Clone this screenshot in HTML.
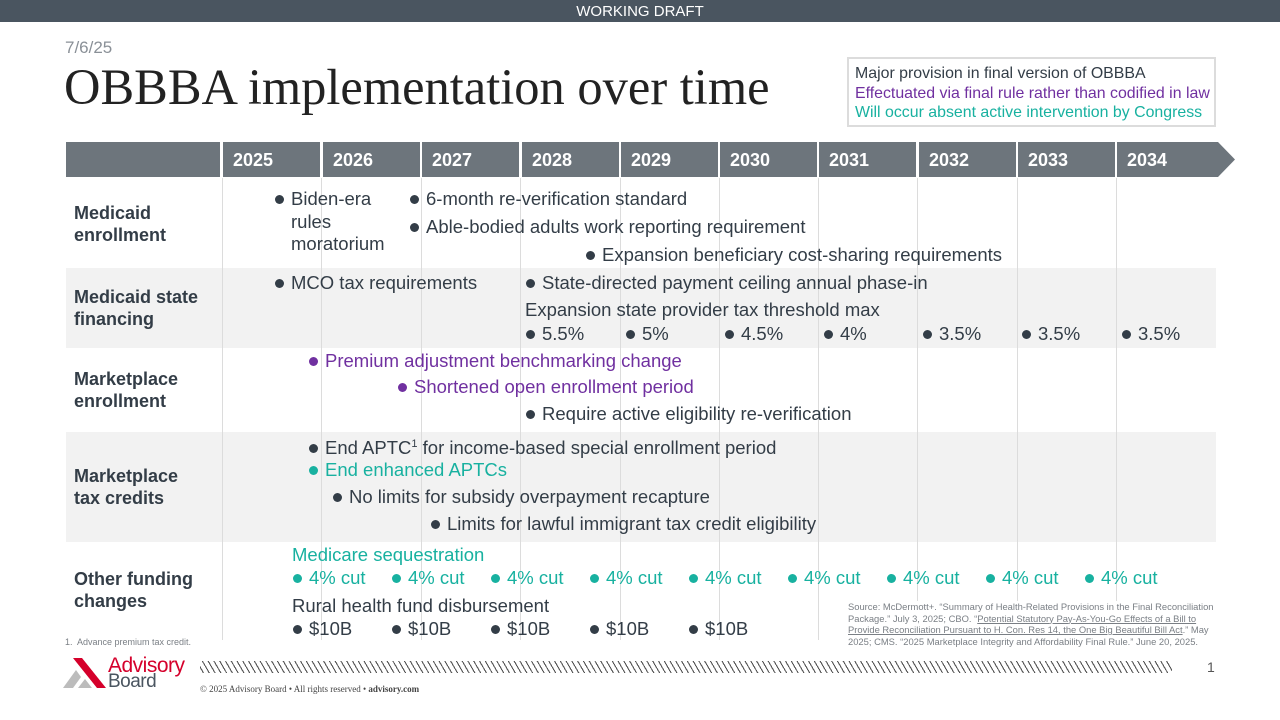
<!DOCTYPE html>
<html><head><meta charset="utf-8"><style>
*{margin:0;padding:0;box-sizing:border-box}
body{width:1280px;height:720px;position:relative;background:#fff;font-family:"Liberation Sans",Arial,sans-serif;overflow:hidden;color:#333d47}
.a{position:absolute;white-space:nowrap}
.t{font-size:18.5px;line-height:22px;color:#333d47}
.p{color:#7030a0}.g{color:#18b1a0}
.d{display:inline-block;width:9px;height:9px;border-radius:50%;background:currentColor;margin-right:7px;vertical-align:1px}
.lab{font-size:18px;font-weight:bold;line-height:22px;color:#333d47}
.yr{position:absolute;top:142px;height:35px;background:#6d757c;color:#fff;font-weight:bold;font-size:18px;line-height:36px;padding-left:10px}
.vl{position:absolute;top:178px;height:462px;width:1px;background:#dcdcdc}
</style></head><body>
<div class="a" style="left:0;top:0;width:1280px;height:22px;background:#4a5560;color:#fff;font-size:15px;line-height:23px;text-align:center">WORKING DRAFT</div>
<div class="a" style="left:65px;top:38px;font-size:17px;color:#8a9097">7/6/25</div>
<div class="a" style="left:64px;top:58px;font-family:'Liberation Serif',serif;font-size:50.5px;color:#222">OBBBA implementation over time</div>
<div class="a" style="left:847px;top:57px;width:369px;height:70px;border:2px solid #dcdcdc;padding:5px 0 0 6px;font-size:15.9px;line-height:19.5px">
<div>Major provision in final version of OBBBA</div><div class="p">Effectuated via final rule rather than codified in law</div><div class="g">Will occur absent active intervention by Congress</div></div>

<div style="position:absolute;left:66px;top:268px;width:1150px;height:80px;background:#f2f2f2"></div>
<div style="position:absolute;left:66px;top:432px;width:1150px;height:110px;background:#f2f2f2"></div>

<div class="yr" style="left:66px;width:154px"></div>
<div class="yr" style="left:223px;width:97px">2025</div>
<div class="yr" style="left:323px;width:97px">2026</div>
<div class="yr" style="left:422px;width:97px">2027</div>
<div class="yr" style="left:522px;width:97px">2028</div>
<div class="yr" style="left:621px;width:97px">2029</div>
<div class="yr" style="left:720px;width:97px">2030</div>
<div class="yr" style="left:819px;width:97px">2031</div>
<div class="yr" style="left:919px;width:97px">2032</div>
<div class="yr" style="left:1018px;width:97px">2033</div>
<div class="yr" style="left:1117px;width:98px">2034</div>
<svg style="position:absolute;left:1214px;top:142px" width="22" height="35"><polygon points="0,0 4,0 21,17.5 4,35 0,35" fill="#6d757c"/></svg>

<div class="vl" style="left:222px"></div><div class="vl" style="left:321px"></div><div class="vl" style="left:421px"></div>
<div class="vl" style="left:520px"></div><div class="vl" style="left:620px"></div><div class="vl" style="left:719px"></div>
<div class="vl" style="left:818px"></div><div class="vl" style="left:917px"></div><div class="vl" style="left:1017px"></div><div class="vl" style="left:1116px"></div>

<div class="a lab" style="left:74px;top:202px">Medicaid<br>enrollment</div>
<div class="a lab" style="left:74px;top:286px">Medicaid state<br>financing</div>
<div class="a lab" style="left:74px;top:368px">Marketplace<br>enrollment</div>
<div class="a lab" style="left:74px;top:465px">Marketplace<br>tax credits</div>
<div class="a lab" style="left:74px;top:568px">Other funding<br>changes</div>

<div class="a t" style="left:275px;top:188px"><span class="d"></span>Biden-era</div>
<div class="a t" style="left:291px;top:211px">rules</div>
<div class="a t" style="left:291px;top:233px">moratorium</div>
<div class="a t" style="left:410px;top:188px"><span class="d"></span>6-month re-verification standard</div>
<div class="a t" style="left:410px;top:216px"><span class="d"></span>Able-bodied adults work reporting requirement</div>
<div class="a t" style="left:586px;top:244px"><span class="d"></span>Expansion beneficiary cost-sharing requirements</div>
<div class="a t" style="left:275px;top:272px"><span class="d"></span>MCO tax requirements</div>
<div class="a t" style="left:526px;top:272px"><span class="d"></span>State-directed payment ceiling annual phase-in</div>
<div class="a t" style="left:525px;top:299px">Expansion state provider tax threshold max</div>
<div class="a t" style="left:526px;top:323px"><span class="d"></span>5.5%</div>
<div class="a t" style="left:626px;top:323px"><span class="d"></span>5%</div>
<div class="a t" style="left:725px;top:323px"><span class="d"></span>4.5%</div>
<div class="a t" style="left:824px;top:323px"><span class="d"></span>4%</div>
<div class="a t" style="left:923px;top:323px"><span class="d"></span>3.5%</div>
<div class="a t" style="left:1022px;top:323px"><span class="d"></span>3.5%</div>
<div class="a t" style="left:1122px;top:323px"><span class="d"></span>3.5%</div>
<div class="a t p" style="left:309px;top:350px"><span class="d"></span>Premium adjustment benchmarking change</div>
<div class="a t p" style="left:398px;top:376px"><span class="d"></span>Shortened open enrollment period</div>
<div class="a t" style="left:526px;top:403px"><span class="d"></span>Require active eligibility re-verification</div>
<div class="a t" style="left:309px;top:433px"><span class="d"></span>End APTC<sup style="font-size:11px">1</sup> for income-based special enrollment period</div>
<div class="a t g" style="left:309px;top:459px"><span class="d"></span>End enhanced APTCs</div>
<div class="a t" style="left:333px;top:486px"><span class="d"></span>No limits for subsidy overpayment recapture</div>
<div class="a t" style="left:431px;top:513px"><span class="d"></span>Limits for lawful immigrant tax credit eligibility</div>
<div class="a t g" style="left:292px;top:544px">Medicare sequestration</div>
<div class="a t g" style="left:293px;top:567px"><span class="d"></span>4% cut</div>
<div class="a t g" style="left:392px;top:567px"><span class="d"></span>4% cut</div>
<div class="a t g" style="left:491px;top:567px"><span class="d"></span>4% cut</div>
<div class="a t g" style="left:590px;top:567px"><span class="d"></span>4% cut</div>
<div class="a t g" style="left:689px;top:567px"><span class="d"></span>4% cut</div>
<div class="a t g" style="left:788px;top:567px"><span class="d"></span>4% cut</div>
<div class="a t g" style="left:887px;top:567px"><span class="d"></span>4% cut</div>
<div class="a t g" style="left:986px;top:567px"><span class="d"></span>4% cut</div>
<div class="a t g" style="left:1085px;top:567px"><span class="d"></span>4% cut</div>
<div class="a t" style="left:292px;top:595px">Rural health fund disbursement</div>
<div class="a t" style="left:293px;top:618px"><span class="d"></span>$10B</div>
<div class="a t" style="left:392px;top:618px"><span class="d"></span>$10B</div>
<div class="a t" style="left:491px;top:618px"><span class="d"></span>$10B</div>
<div class="a t" style="left:590px;top:618px"><span class="d"></span>$10B</div>
<div class="a t" style="left:689px;top:618px"><span class="d"></span>$10B</div>

<div class="a" style="left:846px;top:601px;width:372px;background:#fff;font-size:9.4px;line-height:11.5px;color:#7a7f85;white-space:normal;padding-left:2px">Source: McDermott+. “Summary of Health-Related Provisions in the Final Reconciliation Package.” July 3, 2025; CBO. “<u>Potential Statutory Pay-As-You-Go Effects of a Bill to Provide Reconciliation Pursuant to H. Con. Res 14, the One Big Beautiful Bill Act</u>.” May 2025; CMS. “2025 Marketplace Integrity and Affordability Final Rule.” June 20, 2025.</div>
<div class="a" style="left:65px;top:637px;font-size:9px;color:#7a7f85">1.&nbsp; Advance premium tax credit.</div>

<svg style="position:absolute;left:63px;top:658px" width="46" height="32"><polygon points="10,0 19,0 43,30 34,30" fill="#d5002b"/><polygon points="0,30 13,12 18,19 10,30" fill="#bcbcbc"/><polygon points="22,21 29,30 15,30" fill="#bcbcbc"/></svg>
<div class="a" style="left:108px;top:655px;font-size:21px;line-height:22px;color:#d5002b;letter-spacing:-0.5px">Advisory</div>
<div class="a" style="left:108px;top:672px;font-size:19px;line-height:20px;color:#4a5560;letter-spacing:-0.5px">Board</div>
<div class="a" style="left:200px;top:661px;width:972px;height:12px;background:repeating-linear-gradient(60deg,#fff 0 2.5px,#555 2.5px 3.6px,#fff 3.6px 5px)"></div>
<div class="a" style="left:200px;top:684px;font-family:'Liberation Serif',serif;font-size:9px;color:#444">© 2025 Advisory Board • All rights reserved • <b>advisory.com</b></div>
<div class="a" style="left:1207px;top:659px;font-size:14px;color:#555">1</div>
</body></html>
